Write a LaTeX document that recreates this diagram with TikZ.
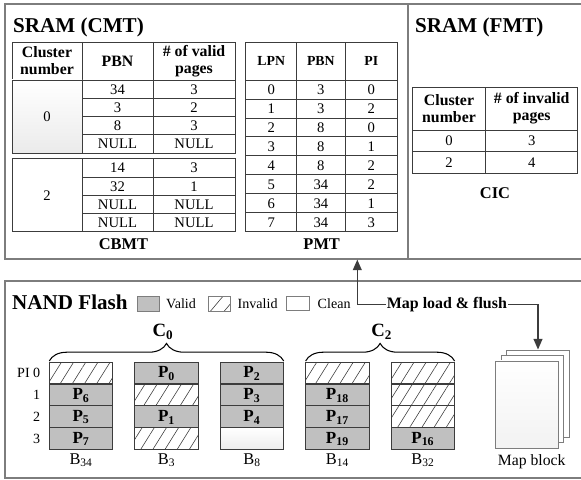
\documentclass[tikz,border=0pt]{standalone}
\usepackage{fontspec}
\setmainfont{Liberation Serif}
\usetikzlibrary{arrows.meta,decorations.pathreplacing,patterns.meta}
\definecolor{validgray}{RGB}{192,192,192}
\definecolor{framegray}{RGB}{125,125,125}
\definecolor{linegray}{RGB}{60,60,60}
\newcommand{\flusharrow}{-{Triangle[length=9pt,width=7.5pt]}}
\newcommand{\titlefont}{\fontsize{18}{20}\selectfont\bfseries}
\newcommand{\headfont}{\fontsize{13.5}{14.5}\selectfont\bfseries}
\newcommand{\smallhead}{\fontsize{11.8}{13}\selectfont\bfseries}
\newcommand{\tabfont}{\fontsize{12.5}{14}\selectfont}
\newcommand{\pagefont}{\fontsize{14.5}{16}\selectfont\bfseries}

\begin{document}
\begin{tikzpicture}[x=0.03cm,y=-0.03cm,
  frame/.style={framegray,line width=1.1pt},
  grid/.style={linegray,line width=0.7pt},
  cell/.style={inner sep=0pt,font=\tabfont,text height=8.3pt,text depth=0pt},
  head/.style={inner sep=0pt,align=center,font=\headfont},
  blk/.style={draw=linegray,line width=1pt},
  valid/.style={blk,fill=validgray},
  inval/.style={blk,pattern={Lines[angle=58,distance=8.8pt,line width=0.5pt]},pattern color=linegray},
  clean/.style={blk,top color=white,bottom color=gray!14},
  page/.style={draw=framegray,line width=0.8pt,fill=white,minimum width=1.878cm,minimum height=2.619cm,inner sep=0pt},
  brace/.style={decorate,decoration={brace,amplitude=15pt},line width=0.9pt},
  legend/.style={inner sep=0pt,font=\fontsize{12}{13}\selectfont,anchor=base west}]
\useasboundingbox (0,0) rectangle (581,480);

\draw[frame] (581,4) -- (5,4) -- (5,259) -- (581,259);
\draw[frame] (408,4) -- (408,259);
\draw[frame] (581,281) -- (5,281) -- (5,478) -- (581,478);

\node[anchor=base west,inner sep=0pt,font=\titlefont] (cmt) at (13,32.3) {SRAM (CMT)};
\node[anchor=base west,inner sep=0pt,font=\titlefont] (fmt) at (415,32.8) {SRAM (FMT)};

\draw[grid] (12,42) rectangle (235,80);
\draw[grid] (82,42) -- (82,80) (153,42) -- (153,80);
\node[head] (hclu) at (47,61) {Cluster\\number};
\node[head] (hpbn) at (117.5,61) {PBN};
\node[head] (hval) at (194,61) {\# of valid\\pages};
\shade[top color=white,bottom color=gray!16] (12,80) rectangle (82,153.2);
\draw[grid] (12,80) rectangle (82,153.2);
\node[cell] (clu0) at (47,116.6) {0};
\foreach \pbn/\num [count=\i from 0] in {34/3,3/2,8/3,NULL/NULL}{
  \draw[grid] (82,{80+18.3*\i}) rectangle (153,{98.3+18.3*\i}) (153,{80+18.3*\i}) rectangle (235,{98.3+18.3*\i});
  \node[cell] (pbnA\i) at (117.5,{89.15+18.3*\i}) {\pbn};
  \node[cell] (numA\i) at (194,{89.15+18.3*\i}) {\num};
}
\draw[grid] (12,158.7) rectangle (82,231.9);
\node[cell] (clu2) at (47,195.3) {2};
\foreach \pbn/\num [count=\i from 0] in {14/3,32/1,NULL/NULL,NULL/NULL}{
  \draw[grid] (82,{158.7+18.3*\i}) rectangle (153,{177+18.3*\i}) (153,{158.7+18.3*\i}) rectangle (235,{177+18.3*\i});
  \node[cell] (pbnB\i) at (117.5,{167.85+18.3*\i}) {\pbn};
  \node[cell] (numB\i) at (194,{167.85+18.3*\i}) {\num};
}
\node[font=\fontsize{14}{15}\selectfont\bfseries] (cbmt) at (123.5,244) {CBMT};

\draw[grid] (245.7,42.3) rectangle (397.7,80);
\draw[grid] (296.7,42.3) -- (296.7,80) (345,42.3) -- (345,80);
\node[head,font=\smallhead] (hlpn) at (271.2,61) {LPN};
\node[head,font=\smallhead] (hppbn) at (320.85,61) {PBN};
\node[head,font=\smallhead] (hpi) at (371.35,61) {PI};
\foreach \lpn/\pbn/\pidx [count=\i from 0] in {0/3/0,1/3/2,2/8/0,3/8/1,4/8/2,5/34/2,6/34/1,7/34/3}{
  \draw[grid] (245.7,{80+18.96*\i}) rectangle (296.7,{98.96+18.96*\i})
              (296.7,{80+18.96*\i}) rectangle (345,{98.96+18.96*\i})
              (345,{80+18.96*\i}) rectangle (397.7,{98.96+18.96*\i});
  \node[cell] (lpn\i) at (271.2,{89.48+18.96*\i}) {\lpn};
  \node[cell] (ppbn\i) at (320.85,{89.48+18.96*\i}) {\pbn};
  \node[cell] (ppi\i) at (371.35,{89.48+18.96*\i}) {\pidx};
}
\node[font=\fontsize{14}{15}\selectfont\bfseries] (pmt) at (321.7,244) {PMT};

\draw[grid] (412.3,87.3) rectangle (577.7,130);
\draw[grid] (485.7,87.3) -- (485.7,130);
\node[head] (hcclu) at (449,108.6) {Cluster\\number};
\node[head] (hinv) at (531.7,108.6) {\# of invalid\\pages};
\foreach \clu/\num [count=\i from 0] in {0/3,2/4}{
  \draw[grid] (412.3,{130+21.65*\i}) rectangle (485.7,{151.65+21.65*\i})
              (485.7,{130+21.65*\i}) rectangle (577.7,{151.65+21.65*\i});
  \node[cell] (cclu\i) at (449,{140.8+21.65*\i}) {\clu};
  \node[cell] (cinv\i) at (531.7,{140.8+21.65*\i}) {\num};
}
\node[font=\fontsize{14}{15}\selectfont\bfseries] (cic) at (495,193) {CIC};

\node[anchor=base west,inner sep=0pt,font=\titlefont] (nand) at (12,309.3) {NAND Flash};
\draw[valid,draw=framegray,line width=0.8pt] (137,296.5) rectangle (159.5,311);
\node[legend] (lvalid) at (166,308.3) {Valid};
\draw[draw=framegray,line width=0.8pt,pattern={Lines[angle=50,distance=9pt,line width=0.5pt]},pattern color=linegray] (208,296.5) rectangle (230.5,311);
\node[legend] (linval) at (237.5,308.3) {Invalid};
\draw[draw=framegray,line width=0.8pt] (286.5,296) rectangle (309.3,310.5);
\node[legend] (lclean) at (317.5,308.3) {Clean};

\node[anchor=west,inner sep=1pt,font=\fontsize{13.6}{15}\selectfont\bfseries] (flush) at (385.5,304.3) {Map load \& flush};
\coordinate (cmtin) at (357.3,259.6);
\node[page] (page3) at (538,393.65) {};
\node[page] (page2) at (532.5,399.15) {};
\node[page,top color=white,bottom color=gray!10] (page1) at (527,404.65) {};
\draw[linegray,line width=1.2pt,\flusharrow] (flush.west) -| (cmtin);
\draw[linegray,line width=1.2pt,\flusharrow] (flush.east) -| (page3.north);
\node[anchor=base,inner sep=0pt,font=\fontsize{13.4}{15}\selectfont] (mapblk) at (531.7,465) {Map block};

\foreach \c/\r/\p in {0/1/6,0/2/5,0/3/7,1/0/0,1/2/1,2/0/2,2/1/3,2/2/4,3/1/18,3/2/17,3/3/19,4/3/16}{
  \draw[valid] ({49.3+85.45*\c},{362.3+21.75*\r}) rectangle +(63.5,21.75);
  \node[font=\pagefont,inner sep=0pt] (p\p) at ({81.05+85.45*\c},{373.7+21.75*\r}) {P\textsubscript{\p}};
}
\foreach \c/\r in {0/0,1/1,1/3,3/0,4/0,4/1,4/2}{
  \draw[inval] ({49.3+85.45*\c},{362.3+21.75*\r}) rectangle +(63.5,21.75);
}
\draw[clean] (220.2,427.55) rectangle +(63.5,21.75);

\foreach \b [count=\c from 0] in {34,3,8,14,32}{
  \node[anchor=base,inner sep=0pt,font=\fontsize{14}{15}\selectfont] (b\b) at ({81.05+85.45*\c},464) {B\textsubscript{\b}};
}
\foreach \r in {1,2,3}{
  \node[anchor=east,inner sep=0pt,font=\fontsize{12}{13}\selectfont] (pi\r) at (40.5,{373.2+21.75*\r}) {\r};
}
\node[anchor=east,inner sep=0pt,font=\fontsize{12}{13}\selectfont] (pi0) at (40.5,373.2) {PI 0};

\draw[brace] (49.3,361) -- (283.7,361);
\draw[brace] (305.65,361) -- (454.6,361);
\node[font=\fontsize{16}{17}\selectfont\bfseries,inner sep=0pt] (c0) at (163,332) {C\textsubscript{0}};
\node[font=\fontsize{16}{17}\selectfont\bfseries,inner sep=0pt] (c2) at (381.7,332) {C\textsubscript{2}};
\end{tikzpicture}
\end{document}
